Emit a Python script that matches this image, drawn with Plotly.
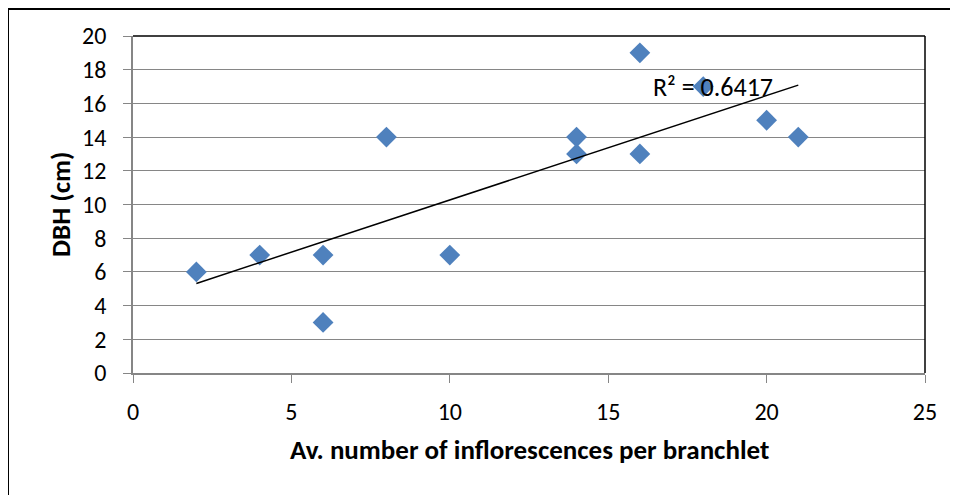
import numpy as np
import plotly.graph_objects as go

# Data
inflorescences = [2, 4, 6, 6, 8, 10, 14, 14, 16, 16, 18, 20, 21]
dbh_cm = [6, 7, 7, 3, 14, 7, 13, 14, 19, 13, 17, 15, 14]
x_ticks = [0, 5, 10, 15, 20, 25]
y_ticks = [0, 2, 4, 6, 8, 10, 12, 14, 16, 18, 20]

x = np.array(inflorescences, dtype=float)
y = np.array(dbh_cm, dtype=float)
slope, intercept = np.polyfit(x, y, 1)
pred = slope * x + intercept
r2 = 1 - np.sum((y - pred) ** 2) / np.sum((y - y.mean()) ** 2)
x_line = np.array([x.min(), x.max()])
y_line = slope * x_line + intercept

FONT = "Carlito, Calibri, Lato, sans-serif"
GRID = "#868686"

fig = go.Figure()
fig.add_trace(go.Scatter(
    x=inflorescences, y=dbh_cm, mode="markers",
    marker=dict(symbol="diamond", size=16, color="#4F81BD",
                line=dict(width=0)),
    showlegend=False, hoverinfo="x+y"))
fig.add_trace(go.Scatter(
    x=x_line, y=y_line, mode="lines",
    line=dict(color="black", width=1.5),
    showlegend=False, hoverinfo="skip"))

OFF = 8  # page offset of the figure
W, H = 950, 487
L = 133 - OFF
T = 36 - OFF
R = OFF + W - 925
B = OFF + H - 373
pw, ph = W - L - R, H - T - B


def px(xpix):
    return (xpix - OFF - L) / pw


def py(ypix):
    return 1 - (ypix - OFF - T) / ph


fig.update_layout(
    width=W, height=H,
    margin=dict(l=L, r=R, t=T, b=B),
    paper_bgcolor="white", plot_bgcolor="white",
    font=dict(family=FONT, size=24, color="black"),
    xaxis=dict(range=[0, 25], tickvals=x_ticks, showgrid=False,
               zeroline=False, showline=True, linecolor=GRID, linewidth=1.5,
               ticks="outside", ticklen=8, tickcolor=GRID, tickwidth=1,
               ticklabelstandoff=8, tickfont=dict(size=24)),
    yaxis=dict(range=[0, 20], tickvals=y_ticks, showgrid=True,
               gridcolor=GRID, gridwidth=1,
               zeroline=False, showline=True, linecolor=GRID, linewidth=1.5,
               ticks="outside", ticklen=8, tickcolor=GRID, tickwidth=1,
               ticklabelstandoff=12, tickfont=dict(size=24)),
    shapes=[
        dict(type="line", xref="paper", yref="paper", x0=0, x1=1, y0=1, y1=1,
             line=dict(color="black", width=1.5)),
        dict(type="line", xref="paper", yref="paper", x0=1, x1=1, y0=0, y1=1,
             line=dict(color="black", width=1.5)),
        dict(type="line", xref="paper", yref="paper",
             x0=px(8), x1=1.2, y0=py(9), y1=py(9),
             line=dict(color="black", width=2)),
        dict(type="line", xref="paper", yref="paper",
             x0=px(8), x1=px(8), y0=py(9), y1=-0.5,
             line=dict(color="black", width=2)),
    ],
    annotations=[
        dict(text=f"R² = {r2:.4f}", xref="paper", yref="paper",
             x=px(651), y=py(87), xanchor="left",
             yanchor="middle", showarrow=False, font=dict(size=26)),
        dict(text="<b>DBH (cm)</b>", xref="paper", yref="paper",
             x=px(60), y=py(205), textangle=-90,
             xanchor="center", yanchor="middle", showarrow=False,
             font=dict(size=27)),
        dict(text="<b>Av. number of inflorescences per branchlet</b>",
             xref="paper", yref="paper",
             x=px(529), y=py(449),
             xanchor="center", yanchor="middle", showarrow=False,
             font=dict(size=27)),
    ],
)

fig.write_html("out.html")
